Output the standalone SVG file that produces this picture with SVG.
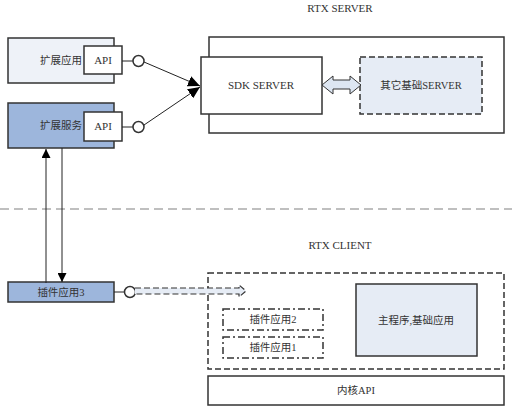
<svg xmlns="http://www.w3.org/2000/svg" width="512" height="406" viewBox="0 0 512 406">
<style>
text{font-family:"Liberation Serif","Noto Sans CJK SC",serif;font-size:11px;fill:#333;text-anchor:middle;dominant-baseline:central}
.cj{font-size:10.5px}
.r{text-anchor:end}
.b{stroke:#333;stroke-width:1.5}
.w{fill:#fff}
.lt{fill:#eef2f8}
.dk{fill:#9db6dc}
.pl{fill:#e6ecf5}
.dash{stroke-dasharray:6,3}
.dd{stroke-dasharray:7,3,2,3}
.ln{stroke:#222;stroke-width:1;fill:none}
</style>
<defs>
<marker id="ah" viewBox="0 0 10 10" refX="10" refY="5" markerWidth="9" markerHeight="9" markerUnits="userSpaceOnUse" orient="auto"><path d="M0,0 L10,5 L0,10 z" fill="#000"/></marker>
<marker id="ahl" viewBox="0 0 10 10" refX="10" refY="5" markerWidth="12" markerHeight="11" markerUnits="userSpaceOnUse" orient="auto" preserveAspectRatio="none"><path d="M0,0 L10,5 L0,10 z" fill="#000"/></marker>
</defs>
<rect width="512" height="406" fill="#fff"/>
<line x1="0" y1="209" x2="512" y2="209" stroke="#aaa" stroke-width="1.5" stroke-dasharray="9,5"/>
<text x="340" y="8">RTX SERVER</text>
<text x="340" y="245">RTX CLIENT</text>
<g id="rtx-server"><rect x="209" y="37" width="295" height="96" class="b w"/></g>
<g id="sdk-server"><rect x="201" y="57" width="121" height="57" class="b w"/><text x="261" y="85">SDK SERVER</text></g>
<g id="other-server"><rect x="360" y="57" width="122" height="57" class="b pl dash"/><text x="421" y="85" class="cj">其它基础SERVER</text></g>
<g id="ext-app"><rect x="8" y="38" width="106" height="45" class="b lt"/><text x="82" y="60" class="cj r">扩展应用</text><rect x="84" y="46" width="38" height="28" class="b w"/><text x="103" y="60">API</text><line x1="122" y1="61" x2="133" y2="61" class="ln"/><circle cx="138.5" cy="61" r="5.5" class="b w" stroke-width="1"/></g>
<g id="ext-svc"><rect x="8" y="103" width="106" height="45" class="b dk"/><text x="82" y="125" class="cj r">扩展服务</text><rect x="84" y="112" width="38" height="29" class="b w"/><text x="103" y="126">API</text><line x1="122" y1="127" x2="133" y2="127" class="ln"/><circle cx="138.5" cy="127" r="5.5" class="b w" stroke-width="1"/></g>
<g id="plugin3"><rect x="8" y="282" width="106" height="20" class="b dk"/><text x="61" y="292" class="cj">插件应用3</text><line x1="114" y1="292" x2="125" y2="292" class="ln"/><circle cx="130" cy="292" r="5.5" class="b w" stroke-width="1"/></g>
<g id="client"><rect x="208" y="273" width="296" height="96" class="b w dash" fill="none"/></g>
<g id="main"><rect x="356" y="284" width="121" height="72" class="b pl"/><text x="416" y="320" class="cj">主程序,基础应用</text></g>
<g id="plugin2"><rect x="223" y="309" width="100" height="21" class="b w dd"/><text x="273" y="319.5" class="cj">插件应用2</text></g>
<g id="plugin1"><rect x="223" y="337" width="100" height="21" class="b w dd"/><text x="273" y="347.5" class="cj">插件应用1</text></g>
<g id="kernel"><rect x="208" y="376" width="296" height="29" class="b w"/><text x="356" y="390" class="cj">内核API</text></g>
<g id="connectors">
<line x1="144" y1="62" x2="200" y2="86" class="ln" marker-end="url(#ahl)"/>
<line x1="144" y1="125" x2="200" y2="87" class="ln" marker-end="url(#ahl)"/>
<path d="M322,85 L333,76 L333,80 L350,80 L350,76 L361,85 L350,94 L350,89 L333,89 L333,94 Z" fill="#dde6f2" stroke="#333" stroke-width="1"/>
<line x1="46" y1="283" x2="46" y2="149" class="ln" marker-end="url(#ah)"/>
<line x1="62" y1="148" x2="62" y2="282" class="ln" marker-end="url(#ah)"/>
<path d="M135,288 L239,288 L239,285 L246,291 L239,297 L239,294 L135,294" fill="#e6ecf5" stroke="#333" stroke-width="1.2" stroke-dasharray="6,3"/>
</g>
</svg>
